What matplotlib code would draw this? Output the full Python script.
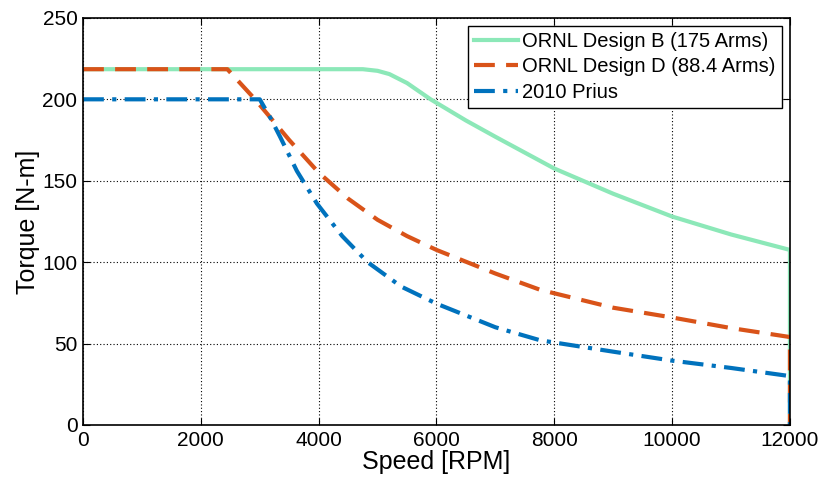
import matplotlib
matplotlib.use("Agg")
import matplotlib.pyplot as plt

plt.rcParams['font.family'] = ['Liberation Sans', 'DejaVu Sans']

# torque-speed envelopes, speed in RPM, torque in N-m
speed_b = [0, 4750, 5000, 5200, 5500, 5900, 6500, 7000, 8000, 9000, 10000, 11000, 12000, 12000]
torque_b = [218.5, 218.5, 217.5, 215.5, 210, 200, 187, 177, 157.5, 142, 128, 117, 107.5, 0]

speed_d = [0, 2450, 2920, 3500, 4000, 4500, 5000, 5500, 6000, 7000, 7760, 9000, 10000, 11000, 12000, 12000]
torque_d = [218.5, 218.5, 200, 175, 155, 139, 126, 116, 107.5, 93, 83, 72, 66, 59.5, 54, 0]

speed_p = [0, 3000, 3175, 3345, 3630, 3970, 4400, 4830, 5400, 6000, 7000, 7760, 9000, 10000, 11000, 12000, 12000]
torque_p = [200, 200, 189, 177, 156, 136, 116, 100, 85, 74.5, 60, 52, 45, 39.5, 35, 30, 0]

labels = ['ORNL Design B (175 Arms)', 'ORNL Design D (88.4 Arms)', '2010 Prius']

fig = plt.figure(figsize=(8.22, 4.84), dpi=100)
ax = fig.add_axes([0.101, 0.122, 0.860, 0.841])

ax.plot(speed_b, torque_b, color='#8ce8b8', lw=3, label=labels[0])
ax.plot(speed_d, torque_d, color='#d95319', lw=3, dashes=(5, 2.7), label=labels[1])
ax.plot(speed_p, torque_p, color='#0072bd', lw=3, dashes=(5, 2, 1, 2), label=labels[2])

ax.set_xlim(0, 12000)
ax.set_ylim(0, 250)
ax.set_xticks(range(0, 12001, 2000))
ax.set_yticks(range(0, 251, 50))
ax.grid(True, color='black', linestyle=(0, (1, 2)), linewidth=0.8)
ax.tick_params(direction='in', top=True, right=True, labelsize=15, length=5, width=0.8, pad=4)
for s in ax.spines.values():
    s.set_linewidth(1.2)

ax.set_xlabel('Speed [RPM]', fontsize=18, labelpad=0)
ax.set_ylabel('Torque [N-m]', fontsize=18, labelpad=2)

leg = ax.legend(loc='upper right', fontsize=14.5, fancybox=False, framealpha=1,
                edgecolor='black', handlelength=2.2, handletextpad=0.2,
                borderpad=0.3, labelspacing=0.32, borderaxespad=0.4)
leg.get_frame().set_linewidth(1.0)

fig.savefig('out.png', dpi=100)
